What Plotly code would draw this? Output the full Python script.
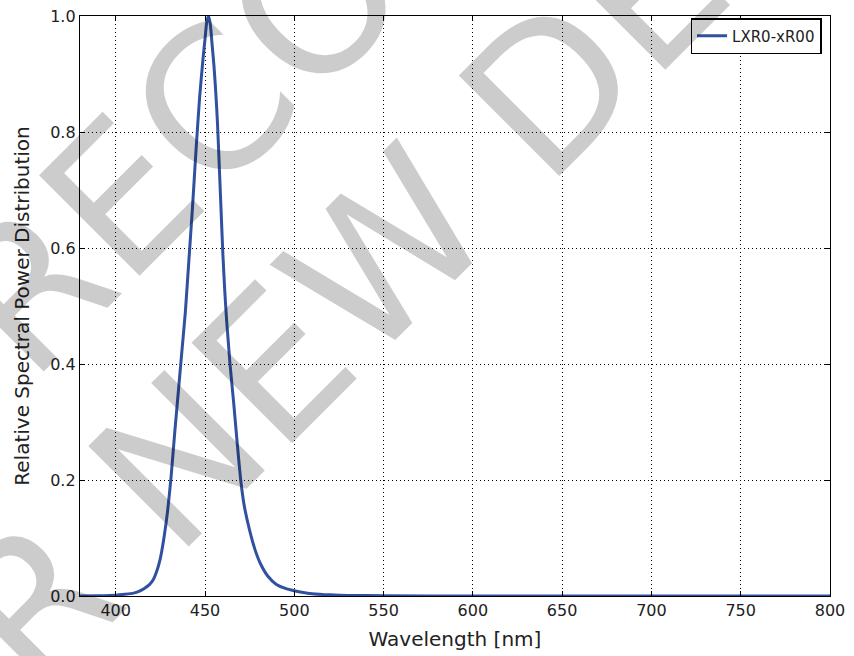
import plotly.graph_objects as go

# ---- data ----
wavelength = [380, 390, 400, 405, 410, 413, 416, 419, 421, 423, 425, 427, 429, 431, 433, 435, 437,
              439, 441, 443, 445, 447, 449, 450, 451, 452, 453, 454, 455, 456, 457, 458, 459, 460,
              461, 462, 463, 464, 466, 468, 470, 472, 475, 478, 481, 485, 490, 495, 500, 505, 510,
              520, 530, 550, 600, 650, 700, 750, 800]
relative_spd = [0.0, 0.0005, 0.0015, 0.003, 0.005, 0.008, 0.013, 0.02, 0.028, 0.043, 0.065, 0.1,
                0.145, 0.205, 0.28, 0.35, 0.42, 0.49, 0.58, 0.67, 0.77, 0.86, 0.93, 0.96, 0.99,
                1.0, 0.985, 0.95, 0.915, 0.87, 0.815, 0.74, 0.665, 0.59, 0.53, 0.48, 0.44, 0.40,
                0.335, 0.265, 0.2, 0.155, 0.113, 0.08, 0.056, 0.035, 0.02, 0.013, 0.009, 0.006,
                0.004, 0.002, 0.001, 0.0005, 0.0, 0.0, 0.0, 0.0, 0.0]
series_name = "LXR0-xR00"
x_ticks = [400, 450, 500, 550, 600, 650, 700, 750, 800]
y_ticks = [0.0, 0.2, 0.4, 0.6, 0.8, 1.0]
watermark_lines = ["NOT RECOMMENDED", "FOR NEW DESIGNS"]

FONT = "DejaVu Sans"

fig = go.Figure()
fig.add_trace(go.Scatter(
    x=wavelength, y=relative_spd, mode="lines", name=series_name,
    line=dict(color="#3050a0", width=3, shape="spline", smoothing=0.6),
    showlegend=True,
))

axis_common = dict(
    showline=True, linecolor="black", linewidth=1.3, mirror="ticks",
    ticks="inside", ticklen=5, tickcolor="black", tickwidth=1,
    showgrid=True, gridcolor="black", gridwidth=1, griddash="1px,3px",
    zeroline=False, automargin=False,
    tickfont=dict(family=FONT, size=16, color="#222"),
)

fig.update_xaxes(
    range=[380, 800], tickvals=x_ticks, ticktext=[str(v) for v in x_ticks],
    title=dict(text="Wavelength [nm]", font=dict(family=FONT, size=20, color="#222"), standoff=12),
    **axis_common,
)
fig.update_yaxes(
    range=[0, 1], tickvals=y_ticks, ticktext=[f"{v:.1f}" for v in y_ticks],
    title=dict(text="Relative Spectral Power Distribution", font=dict(family=FONT, size=20, color="#222"), standoff=15),
    **axis_common,
)

# watermark (rotated, light gray)
wm_pos = [(0.3867, 1.1155), (0.504, 0.7155)]
for txt, (px, py) in zip(watermark_lines, wm_pos):
    fig.add_annotation(
        text=txt, xref="paper", yref="paper", x=px, y=py,
        xanchor="center", yanchor="middle", showarrow=False, textangle=-45,
        font=dict(family=FONT, size=195, color="rgba(0,0,0,0.2)"),
    )

fig.update_layout(
    width=854, height=656,
    margin=dict(l=80, r=24, t=16, b=60),
    paper_bgcolor="white", plot_bgcolor="white",
    showlegend=True,
    legend=dict(
        x=0.989, y=0.996, xanchor="right", yanchor="top",
        bgcolor="white", bordercolor="black", borderwidth=1.3,
        font=dict(family=FONT, size=15, color="#222"),
    ),
)

fig.write_html("out.html", config={"displayModeBar": False},
               post_script="document.body.style.margin='0';document.body.style.overflow='hidden';")
